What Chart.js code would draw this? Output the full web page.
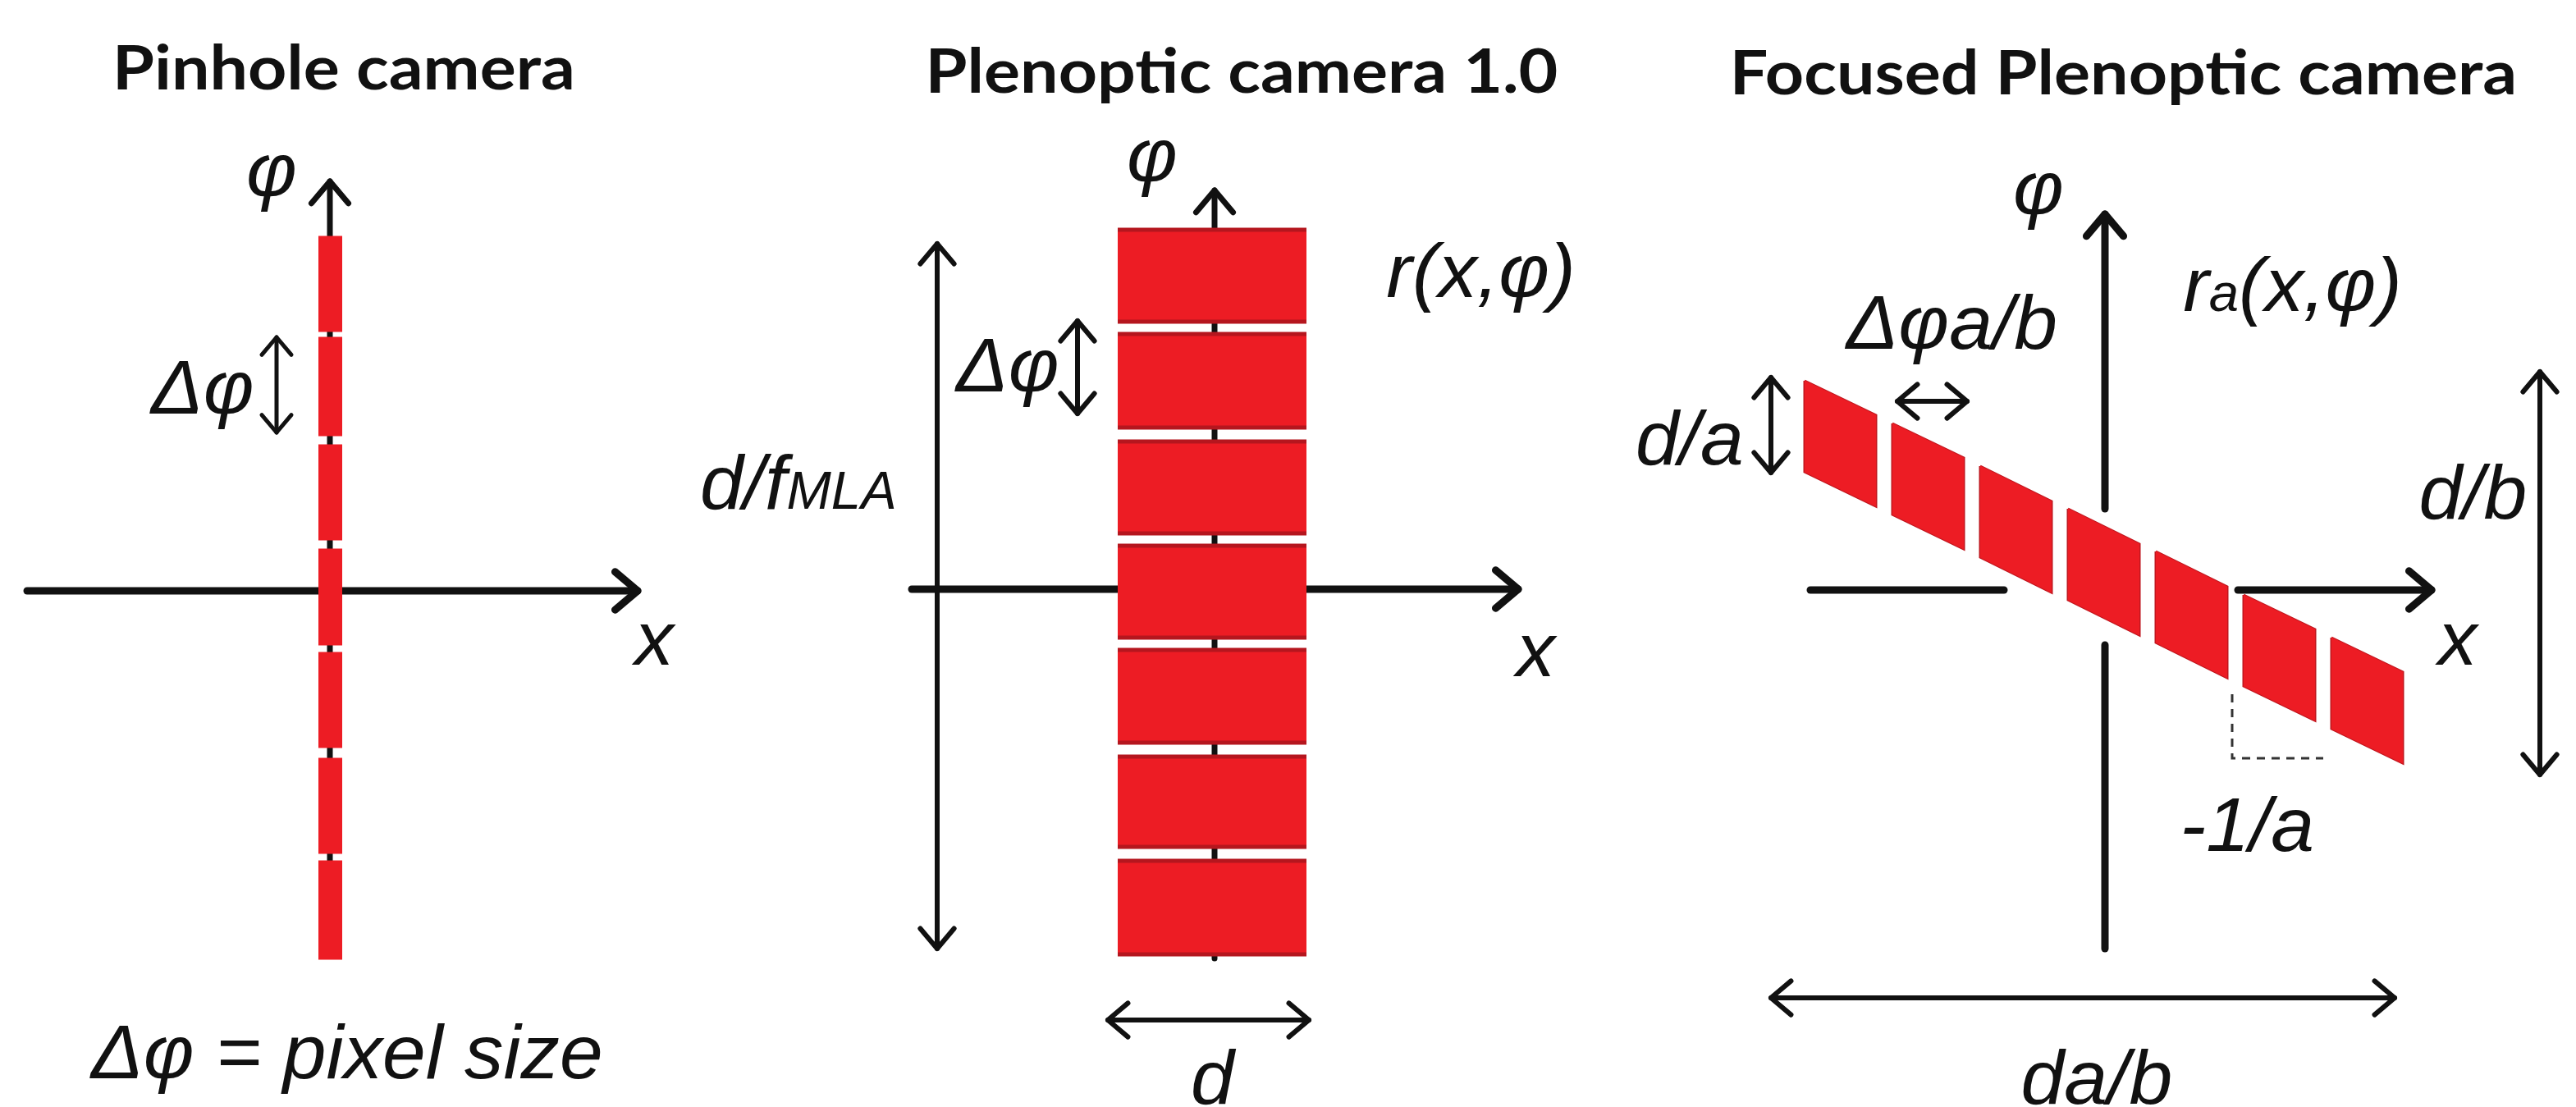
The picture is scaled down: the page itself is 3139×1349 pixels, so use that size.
<!DOCTYPE html>
<html>
<head>
<meta charset="utf-8">
<script src="https://cdn.jsdelivr.net/npm/chart.js@4.4.1/dist/chart.umd.min.js"></script>
<style>
    html, body { margin: 0; padding: 0; background: #fff; overflow: hidden; }
    #stage { position: relative; width: 3139px; height: 1349px; }
    #stage canvas { position: absolute; left: 0; top: 0; }
</style>
</head>
<body>
<div id="stage">
    <canvas id="pinhole-chart" width="3139" height="1349"></canvas>
    <canvas id="plenoptic-chart" width="3139" height="1349"></canvas>
    <canvas id="focused-chart" width="3139" height="1349"></canvas>
</div>
<script>
// Values are in sketch units, origin at the crossing of the x / phi axes of each panel.

// Pinhole camera: one thin column of pixels
const pinholeLeft = [-0.14, -0.14, -0.14, -0.14, -0.14, -0.14, -0.14];
const pinholeRight = [0.15, 0.15, 0.15, 0.15, 0.15, 0.15, 0.15];
const pinholeTop = [4.32, 3.09, 1.78, 0.51, -0.75, -2.04, -3.29];
const pinholeBottom = [3.16, 1.89, 0.62, -0.66, -1.91, -3.20, -4.49];

// Plenoptic camera 1.0: wide microlens cells
const plenopticLeft = [-1.18, -1.18, -1.18, -1.18, -1.18, -1.18, -1.18];
const plenopticRight = [1.12, 1.12, 1.12, 1.12, 1.12, 1.12, 1.12];
const plenopticTop = [4.38, 3.11, 1.80, 0.53, -0.74, -2.04, -3.31];
const plenopticBottom = [3.26, 1.97, 0.68, -0.59, -1.87, -3.14, -4.45];

// Focused plenoptic camera: sheared cells along slope -1/a
const focusedLeft = [-3.66, -2.59, -1.52, -0.45, 0.62, 1.69, 2.76];
const focusedRight = [-2.79, -1.72, -0.65, 0.42, 1.49, 2.56, 3.63];
const focusedTopL = [2.55, 2.03, 1.51, 0.99, 0.47, -0.06, -0.58];
const focusedTopR = [2.13, 1.61, 1.08, 0.56, 0.04, -0.48, -1.00];
const focusedBottomL = [1.44, 0.92, 0.40, -0.12, -0.64, -1.17, -1.69];
const focusedBottomR = [1.02, 0.50, -0.03, -0.55, -1.07, -1.59, -2.11];

// arrows: [x0, y0, x1, y1]
const pinholeAxes = [[0, -4.4, 0, 4.99], [-3.69, 0, 3.75, 0]];
const pinholeDims = [[-0.65, 1.93, -0.65, 3.09]];
const plenopticAxes = [[0, -4.5, 0, 4.86], [-3.69, 0, 3.70, 0]];
const plenopticDims = [[-3.38, -4.38, -3.38, 4.21], [-1.67, 2.14, -1.67, 3.27], [-1.30, -5.25, 1.15, -5.25]];
const focusedAxes = [[0, 0.99, 0, 4.58], [1.62, 0, 3.98, 0]];
const focusedAxisStubs = [[0, -4.37, 0, -0.67], [-3.59, 0, -1.23, 0]];
const focusedDims = [[-4.07, 1.43, -4.07, 2.59], [-2.53, 2.30, -1.68, 2.30], [5.30, -2.25, 5.30, 2.66], [-4.07, -4.97, 3.53, -4.97]];
const focusedSlope = [[1.55, -1.27], [1.55, -2.05], [2.66, -2.05]];

// labels: text parts and the centre of the text
const pinholeLabels = [
    [[['Pinhole camera', 'title']], 0.18, 6.385],
    [[['φ', 'math']], -0.71, 4.97],
    [[['Δφ', 'math']], -1.575, 2.39],
    [[['x', 'math']], 3.95, -0.645],
    [[['Δφ = pixel size', 'math']], 0.185, -5.695]
];
const plenopticLabels = [
    [[['Plenoptic camera 1.0', 'title']], 0.355, 6.265],
    [[['φ', 'math']], -0.76, 5.135],
    [[['r(x,φ)', 'math']], 3.225, 3.80],
    [[['Δφ', 'math']], -2.545, 2.635],
    [[['d/f', 'math'], ['MLA', 'small']], -5.07, 1.31],
    [[['x', 'math']], 3.91, -0.805],
    [[['d', 'math']], 0.005, -5.94]
];
const focusedLabels = [
    [[['Focused Plenoptic camera', 'title']], 0.235, 6.255],
    [[['φ', 'math']], -0.81, 4.745],
    [[['r', 'math'], ['a', 'small'], ['(x,φ)', 'math']], 2.265, 3.64],
    [[['Δφa/b', 'math']], -1.89, 3.185],
    [[['d/a', 'math']], -5.06, 1.86],
    [[['d/b', 'math']], 4.485, 1.195],
    [[['x', 'math']], 4.295, -0.655],
    [[['-1/a', 'math']], 1.74, -2.845],
    [[['da/b', 'math']], -0.10, -5.93]
];

const RED = '#ED1C24';
const INK = '#111111';
const UNIT = 100; // px per sketch unit
const W = 3139, H = 1349;

const fonts = {
    title: 'bold 75px Lato',
    math: 'italic 93px "Liberation Sans"',
    small: 'italic 64px "Liberation Sans"'
};
const stretch = { title: 1.1, math: 1.02, small: 1.02 };

const px = (chart, x, y) => [chart.scales.x.getPixelForValue(x), chart.scales.y.getPixelForValue(y)];

function drawArrow(ctx, chart, seg, width, heads, size) {
    const [a, b] = [px(chart, seg[0], seg[1]), px(chart, seg[2], seg[3])];
    ctx.save();
    ctx.strokeStyle = INK;
    ctx.lineWidth = width;
    ctx.lineCap = 'round';
    ctx.lineJoin = 'round';
    ctx.beginPath();
    ctx.moveTo(a[0], a[1]);
    ctx.lineTo(b[0], b[1]);
    ctx.stroke();
    const head = (tip, from) => {
        const ang = Math.atan2(tip[1] - from[1], tip[0] - from[0]);
        ctx.beginPath();
        ctx.moveTo(tip[0] - size * Math.cos(ang - 0.7), tip[1] - size * Math.sin(ang - 0.7));
        ctx.lineTo(tip[0], tip[1]);
        ctx.lineTo(tip[0] - size * Math.cos(ang + 0.7), tip[1] - size * Math.sin(ang + 0.7));
        ctx.stroke();
    };
    if (heads >= 1) head(b, a);
    if (heads === 2) head(a, b);
    ctx.restore();
}

function drawLabel(ctx, chart, label) {
    const [parts, x, y] = label;
    const [cx, cy] = px(chart, x, y);
    ctx.save();
    ctx.fillStyle = INK;
    ctx.textAlign = 'left';
    ctx.textBaseline = 'alphabetic';
    let pen = 0, left = Infinity, right = -Infinity, top = Infinity, bottom = -Infinity;
    const placed = parts.map(([text, kind]) => {
        ctx.font = fonts[kind];
        const m = ctx.measureText(text);
        const s = stretch[kind];
        left = Math.min(left, pen - m.actualBoundingBoxLeft * s);
        right = Math.max(right, pen + m.actualBoundingBoxRight * s);
        top = Math.min(top, -m.actualBoundingBoxAscent);
        bottom = Math.max(bottom, m.actualBoundingBoxDescent);
        const item = [text, kind, pen];
        pen += m.width * s;
        return item;
    });
    const ox = cx - (left + right) / 2;
    const oy = cy - (top + bottom) / 2;
    placed.forEach(([text, kind, dx]) => {
        ctx.save();
        ctx.font = fonts[kind];
        ctx.translate(ox + dx, oy);
        ctx.scale(stretch[kind], 1);
        ctx.fillText(text, 0, 0);
        ctx.restore();
    });
    ctx.restore();
}

function cellSets(lefts, rights, topsL, topsR, botsL, botsR, edgeColor, edgeWidth) {
    const sets = [];
    lefts.forEach((l, i) => {
        sets.push({
            data: [{ x: l, y: botsL[i] }, { x: rights[i], y: botsR[i] }],
            borderColor: edgeColor, borderWidth: edgeWidth, fill: false
        });
        sets.push({
            data: [{ x: l, y: topsL[i] }, { x: rights[i], y: topsR[i] }],
            borderColor: edgeColor, borderWidth: edgeWidth, fill: '-1', backgroundColor: RED
        });
    });
    return sets;
}

function makePanel(id, origin, datasets, under, over) {
    const sketch = {
        id: 'sketch-' + id,
        beforeDatasetsDraw(chart) { under(chart.ctx, chart); },
        afterDatasetsDraw(chart) { over(chart.ctx, chart); }
    };
    return new Chart(document.getElementById(id).getContext('2d'), {
        type: 'line',
        data: { datasets },
        options: {
            responsive: false,
            animation: false,
            devicePixelRatio: 1,
            layout: { padding: 0 },
            elements: { point: { radius: 0 }, line: { tension: 0 } },
            scales: {
                x: { type: 'linear', display: false, min: -origin[0] / UNIT, max: (W - origin[0]) / UNIT },
                y: { type: 'linear', display: false, min: -(H - origin[1]) / UNIT, max: origin[1] / UNIT }
            },
            plugins: { legend: { display: false }, tooltip: { enabled: false } },
            events: []
        },
        plugins: [sketch]
    });
}

// Pinhole camera
makePanel('pinhole-chart', [402, 720],
    cellSets(pinholeLeft, pinholeRight, pinholeTop, pinholeTop, pinholeBottom, pinholeBottom, RED, 1),
    (ctx, chart) => {
        drawArrow(ctx, chart, pinholeAxes[0], 7, 1, 35);
        drawArrow(ctx, chart, pinholeAxes[1], 9, 1, 36);
    },
    (ctx, chart) => {
        pinholeDims.forEach(seg => drawArrow(ctx, chart, seg, 5, 2, 28));
        pinholeLabels.forEach(l => drawLabel(ctx, chart, l));
    });

// Plenoptic camera 1.0
makePanel('plenoptic-chart', [1480, 718],
    cellSets(plenopticLeft, plenopticRight, plenopticTop, plenopticTop, plenopticBottom, plenopticBottom, '#B5161E', 5),
    (ctx, chart) => {
        drawArrow(ctx, chart, plenopticAxes[0], 7, 1, 35);
        drawArrow(ctx, chart, plenopticAxes[1], 9, 1, 36);
    },
    (ctx, chart) => {
        plenopticDims.forEach(seg => drawArrow(ctx, chart, seg, 6, 2, 32));
        plenopticLabels.forEach(l => drawLabel(ctx, chart, l));
    });

// Focused plenoptic camera
const focusedOutline = focusedLeft.map((l, i) => ({
    data: [
        { x: l, y: focusedTopL[i] }, { x: focusedRight[i], y: focusedTopR[i] },
        { x: focusedRight[i], y: focusedBottomR[i] }, { x: l, y: focusedBottomL[i] },
        { x: l, y: focusedTopL[i] }
    ],
    borderColor: '#C0161E', borderWidth: 3, fill: false
}));

makePanel('focused-chart', [2565, 719],
    cellSets(focusedLeft, focusedRight, focusedTopL, focusedTopR, focusedBottomL, focusedBottomR, RED, 1).concat(focusedOutline),
    (ctx, chart) => {
        drawArrow(ctx, chart, focusedAxes[0], 9, 1, 35);
        drawArrow(ctx, chart, focusedAxes[1], 9, 1, 36);
        focusedAxisStubs.forEach(seg => drawArrow(ctx, chart, seg, 9, 0, 0));
    },
    (ctx, chart) => {
        focusedDims.forEach(seg => drawArrow(ctx, chart, seg, 6, 2, 32));
        ctx.save();
        ctx.strokeStyle = '#333';
        ctx.lineWidth = 3;
        ctx.setLineDash([10, 8]);
        ctx.beginPath();
        focusedSlope.forEach(([x, y], i) => {
            const [qx, qy] = px(chart, x, y);
            if (i === 0) ctx.moveTo(qx, qy); else ctx.lineTo(qx, qy);
        });
        ctx.stroke();
        ctx.restore();
        focusedLabels.forEach(l => drawLabel(ctx, chart, l));
    });
</script>
</body>
</html>
